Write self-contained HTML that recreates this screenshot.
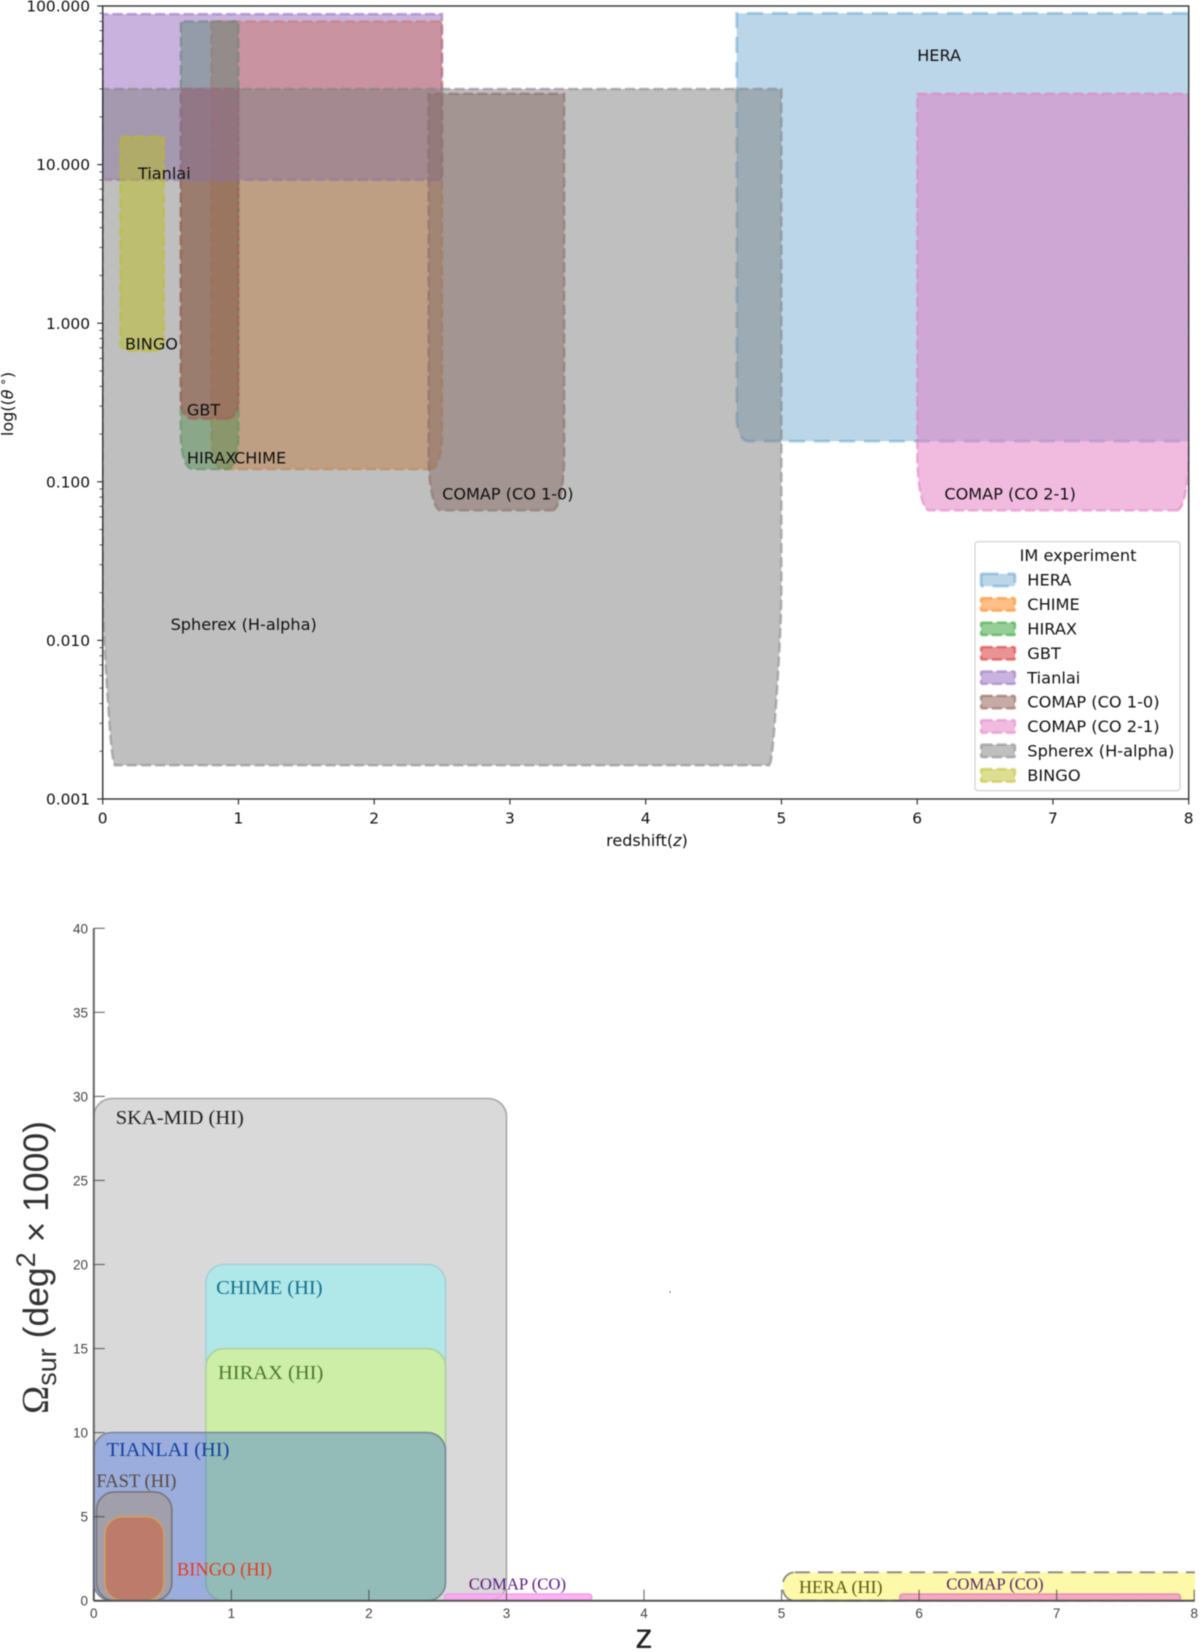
<!DOCTYPE html>
<html lang="en">
<head>
<meta charset="utf-8">
<title>Intensity mapping experiments</title>
<style>
html,body{margin:0;padding:0;background:#fff;width:1200px;height:1652px;overflow:hidden}
svg{display:block;filter:blur(0.45px)}
.dv{font-family:"DejaVu Sans","Liberation Sans",sans-serif;fill:#111}
.sf{font-family:"Liberation Serif",serif}
.ss{font-family:"Liberation Sans",sans-serif}
</style>
</head>
<body>
<svg id="root" xmlns="http://www.w3.org/2000/svg" width="1200" height="1652" viewBox="0 0 1200 1652">
  <defs>
    <clipPath id="top-clip"><rect x="102.7" y="6" width="1086" height="793"/></clipPath>
    <clipPath id="bottom-clip"><rect x="90" y="920" width="1105" height="682"/></clipPath>
  </defs>
  <rect x="0" y="0" width="1200" height="1652" fill="#fff"/>
  <g id="top-marks" clip-path="url(#top-clip)"></g>
  <g id="top-labels"></g>
  <rect x="102.7" y="6" width="1086" height="793" fill="none" stroke="#333" stroke-width="1.4"/>
  <g id="top-axes"></g>
  <text class="dv" x="647" y="846" font-size="16" text-anchor="middle">redshift(<tspan font-style="italic">z</tspan>)</text>
  <text class="dv" transform="translate(13,404) rotate(-90)" font-size="16" text-anchor="middle">log((<tspan font-style="italic">θ</tspan><tspan font-size="12" dy="-6"> ∘</tspan><tspan dy="6">)</tspan></text>
  <g id="legend">
    <rect x="975" y="541.7" width="205" height="249" rx="3" fill="#fff" fill-opacity="0.85" stroke="#d0d0d0" stroke-width="1.2"/>
    <text class="dv" x="1078" y="561" font-size="16.2" text-anchor="middle">IM experiment</text>
  </g>

  <g id="bottom-marks" clip-path="url(#bottom-clip)"></g>
  <g id="bottom-axes"></g>
  <g id="bottom-labels"></g>
  <text class="ss" x="644" y="1648" font-size="35" text-anchor="middle" fill="#222">z</text>
  <text class="ss" transform="translate(48,1414) rotate(-90)" font-size="35.5" fill="#333"><tspan class="sf" font-size="38">Ω</tspan><tspan font-size="27" dy="8">sur</tspan><tspan dy="-8"> (deg</tspan><tspan font-size="27" dy="-13">2</tspan><tspan dy="13"> × 1000)</tspan></text>
  <circle cx="670" cy="1292" r="0.7" fill="#555"/>
</svg>
<script>
// ---------- top chart data ----------
const experiments = ["HERA","CHIME","HIRAX","GBT","Tianlai","COMAP (CO 1-0)","COMAP (CO 2-1)","Spherex (H-alpha)","BINGO"];
const zMin = [4.67,0.8,0.575,0.575,0,2.4,6,0,0.13];
const zMax = [8.3,2.5,1,1,2.5,3.4,8,5,0.45];
const thetaMin = [0.18,0.12,0.12,0.25,8,0.066,0.066,0.00163,0.67];
const thetaMax = [90,80,80,30,89,28,28,30,15];
const cornerTheta = [0.08,0.08,0.08,0.08,0.08,0.08,0.08,0.02,0.08];
const labelZ = [6,0.967,0.62,0.62,0.26,2.5,6.2,0.5,0.164];
const labelTheta = [48.7,0.141,0.141,0.284,8.8,0.084,0.084,0.01256,0.74];
const hues = ["#1f77b4","#ff7f0e","#2ca02c","#d62728","#9467bd","#8c564b","#e377c2","#7f7f7f","#bcbd22"];
const alphas = [0.3,0.5,0.5,0.5,0.5,0.5,0.5,0.5,0.5];
const topXTicks = [0,1,2,3,4,5,6,7,8];
const topYTicks = [100,10,1,0.1,0.01,0.001];
const topYTickLabels = ["100.000","10.000","1.000","0.100","0.010","0.001"];

// ---------- bottom chart data ----------
const surveys = ["SKA-MID (HI)","CHIME (HI)","HIRAX (HI)","TIANLAI (HI)","FAST (HI)","BINGO (HI)","COMAP (CO)","HERA (HI)","COMAP (CO)"];
const surveyZMin = [0,0.815,0.815,0,0.02,0.08,2.55,5.01,5.86];
const surveyZMax = [3,2.557,2.557,2.557,0.567,0.51,3.62,8.2,7.9];
const surveyOmega = [29.87,20,15,10,6.47,5,0.4,1.69,0.4];
const surveyFill = ["#d9d9d9","#b0e8ea","#cdeea6","#0d49e3","#af823c","#bd7b6c","#fb9ff0","#fdf9a8","#f49fc0"];
const surveyFillAlpha = [1,1,1,0.3,0.3,1,0.8,1,0.9];
const surveyStroke = ["#a8a8a8","#a5d0d5","#b0d0a0","#7d8a9a","#777777","#d0a060","#f0a0e8","#888888","#e890b8"];
const surveyLabelZ = [0.159,0.889,0.903,0.092,0.019,0.604,2.726,5.127,6.198];
const surveyLabelOmega = [28.7,18.57,13.52,8.95,7.1,1.83,1.0,0.8,1.0];
const surveyLabelColor = ["#222222","#12708c","#4c7a2c","#1040a0","#5a4a3a","#e83a20","#5a1a80","#5c5a10","#5a2070"];
const surveyLabelSize = [20.5,20.5,20.5,20.4,18.5,18.5,16.7,18,16.7];
const bottomXTicks = [0,1,2,3,4,5,6,7,8];
const bottomYTicks = [0,5,10,15,20,25,30,35,40];

// ---------- axis functions ----------
const topX = z => 102.7 + 135.75 * z;
const topY = t => 6 + (2 - Math.log10(t)) * 158.6;
const botX = z => 93.8 + 137.55 * z;
const botY = o => 1600.7 - 16.81 * o;

const NS = "http://www.w3.org/2000/svg";
function make(parentId, tag, props, text){
  const el = document.createElementNS(NS, tag);
  for (const k in props) el.setAttribute(k, props[k]);
  if (text !== undefined) el.textContent = text;
  document.getElementById(parentId).appendChild(el);
  return el;
}
const slug = s => s.toLowerCase().replace(/[^a-z0-9]+/g, "-").replace(/(^-|-$)/g, "");

// rounded box built in data space, then projected through the log axis
function fancyPath(i){
  const x0 = zMin[i], x1 = zMax[i], y0 = thetaMin[i], y1 = thetaMax[i];
  const rx = 0.09, ry = cornerTheta[i], pts = [];
  function corner(ax, ay, cx, cy, bx, by){
    for (let k = 0; k <= 14; k++){
      const t = k / 14, u = 1 - t;
      pts.push([u*u*ax + 2*u*t*cx + t*t*bx, u*u*ay + 2*u*t*cy + t*t*by]);
    }
  }
  corner(x1 - rx, y0, x1, y0, x1, y0 + ry);
  corner(x1, y1 - ry, x1, y1, x1 - rx, y1);
  corner(x0 + rx, y1, x0, y1, x0, y1 - ry);
  corner(x0, y0 + ry, x0, y0, x0 + rx, y0);
  return "M" + pts.map(p => topX(p[0]).toFixed(2) + " " + topY(p[1]).toFixed(2)).join("L") + "Z";
}

// top regions, labels, legend
experiments.forEach((name, i) => {
  const heavy = i === 0;
  const region = make("top-marks", "path", {
    d: fancyPath(i), fill: hues[i], "fill-opacity": alphas[i],
    stroke: hues[i], "stroke-opacity": alphas[i],
    "stroke-width": heavy ? 3 : 2.6, "stroke-dasharray": heavy ? "16 9" : "10 4.2"
  });
  
  

  const label = make("top-labels", "text", {
    class: "dv", x: topX(labelZ[i]).toFixed(1), y: (topY(labelTheta[i]) + 5.5).toFixed(1), "font-size": 16.1
  }, name);
  
  

  const rowY = 580 + i * 24.42;
  const swatch = make("legend", "rect", {
    x: 981, y: (rowY - 6.3).toFixed(1), width: 34, height: 12.6, rx: 1.5,
    fill: hues[i], "fill-opacity": alphas[i], stroke: hues[i], "stroke-opacity": alphas[i],
    "stroke-width": heavy ? 3 : 2.6, "stroke-dasharray": heavy ? "16 9" : "10 4.2"
  });
  
  

  const entry = make("legend", "text", {
    class: "dv", x: 1027.3, y: (rowY + 5.6).toFixed(1), "font-size": 16.2
  }, name);
  
  
});

// top ticks
topXTicks.forEach(z => {
  const tick = make("top-axes", "line", {x1: topX(z), x2: topX(z), y1: 799, y2: 804.5, stroke: "#333", "stroke-width": 1.2});
  
  
  const lab = make("top-axes", "text", {class: "dv", x: topX(z), y: 823.5, "font-size": 15.4, "text-anchor": "middle"}, String(z));
  
  
});
topYTicks.forEach((t, i) => {
  const tick = make("top-axes", "line", {x1: 97.2, x2: 102.7, y1: topY(t), y2: topY(t), stroke: "#333", "stroke-width": 1.2});
  
  
  const lab = make("top-axes", "text", {class: "dv", x: 90, y: topY(t) + 5.6, "font-size": 15.4, "text-anchor": "end"}, topYTickLabels[i]);
  
  
  if (i < topYTicks.length - 1){
    for (let m = 2; m < 10; m++){
      const minor = make("top-axes", "line", {x1: 99.4, x2: 102.7, y1: topY(t * m / 10), y2: topY(t * m / 10), stroke: "#444", "stroke-width": 0.9});
      
      
    }
  }
});

// bottom regions
surveys.forEach((name, i) => {
  const x = botX(surveyZMin[i]), w = botX(surveyZMax[i]) - x;
  const y = botY(surveyOmega[i]), h = botY(0) - y;
  const low = surveyOmega[i] < 1;
  const hera = name === "HERA (HI)";
  const box = make("bottom-marks", "rect", {
    x: x.toFixed(1), y: y.toFixed(1), width: w.toFixed(1), height: h.toFixed(1),
    rx: low ? 3 : (hera ? 12 : 18), fill: surveyFill[i], "fill-opacity": surveyFillAlpha[i],
    stroke: surveyStroke[i], "stroke-width": hera ? 1.8 : 1.6
  });
  if (hera) box.setAttribute("stroke-dasharray", "15 8");
  
  

  const label = make("bottom-labels", "text", {
    class: "sf", x: botX(surveyLabelZ[i]).toFixed(1), y: (botY(surveyLabelOmega[i]) + 5.5).toFixed(1),
    "font-size": surveyLabelSize[i], fill: surveyLabelColor[i]
  }, name);
  
  
});

// bottom axes
const bottomXLine = make("bottom-axes", "line", {x1: botX(0), x2: botX(8), y1: botY(0), y2: botY(0), stroke: "#555", "stroke-width": 2});


const bottomYLine = make("bottom-axes", "line", {x1: botX(0), x2: botX(0), y1: botY(40), y2: botY(0), stroke: "#666", "stroke-width": 2});


bottomXTicks.forEach(z => {
  const tick = make("bottom-axes", "line", {x1: botX(z), x2: botX(z), y1: botY(0), y2: botY(0) - 11, stroke: "#444", "stroke-width": 1.2, "stroke-opacity": 0.75});
  
  
  const lab = make("bottom-axes", "text", {class: "ss", x: botX(z), y: 1618, "font-size": 13.5, "text-anchor": "middle", fill: "#444"}, String(z));
  
  
});
bottomYTicks.forEach(o => {
  const tick = make("bottom-axes", "line", {x1: botX(0), x2: botX(0) + 11, y1: botY(o), y2: botY(o), stroke: "#444", "stroke-width": 1.2, "stroke-opacity": 0.75});
  
  
  const lab = make("bottom-axes", "text", {class: "ss", x: 88, y: botY(o) + 5, "font-size": 13.5, "text-anchor": "end", fill: "#444"}, String(o));
  
  
});
</script>
</body>
</html>
